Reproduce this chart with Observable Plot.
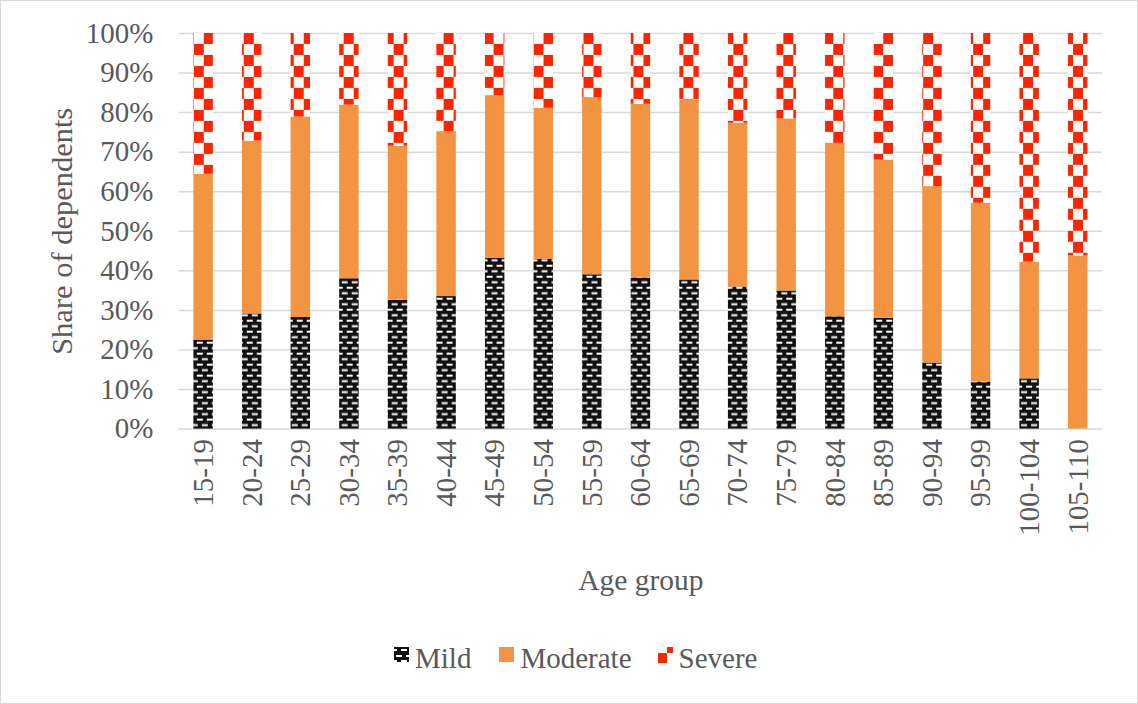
<!DOCTYPE html>
<html>
<head>
<meta charset="utf-8">
<script src="https://cdn.jsdelivr.net/npm/d3@7"></script>
<script src="https://cdn.jsdelivr.net/npm/@observablehq/plot@0.6"></script>
<style>
  body { margin: 0; background: #fff; }
  #frame { position: relative; width: 1138px; height: 704px; box-sizing: border-box; border: 1px solid #d9d9d9; background: #fff; font-family: "Liberation Serif", "Times New Roman", serif; color: #595959; overflow: hidden; }
  #chart { position: absolute; left: -1px; top: -1px; }
  #legend { position: absolute; top: 639px; left: 393px; height: 36px; line-height: 36px; font-size: 29px; font-family: "Liberation Serif", "Times New Roman", serif; color: #595959; display: flex; align-items: center; white-space: nowrap; }
  #legend span { font-family: "Liberation Serif", "Times New Roman", serif; }
  .item { display: flex; align-items: center; }
  .item svg { display: block; margin-right: 6px; margin-top: -7px; }
</style>
</head>
<body>
<div id="frame">
  <div id="chart"></div>
  <div id="legend"></div>
</div>
<script>
// ---- data (percent shares) ----
const ageGroups = ["15-19","20-24","25-29","30-34","35-39","40-44","45-49","50-54","55-59","60-64","65-69","70-74","75-79","80-84","85-89","90-94","95-99","100-104","105-110"];
const mild     = [22.5, 29.1, 28.2, 38.0, 32.6, 33.5, 43.2, 42.9, 39.0, 38.2, 37.7, 35.9, 34.9, 28.4, 28.0, 16.7, 11.9, 12.7, 0.0];
const moderate = [41.9, 43.7, 50.7, 43.9, 38.9, 41.7, 41.1, 38.2, 44.8, 43.9, 45.5, 41.4, 43.5, 43.8, 40.0, 44.6, 45.2, 29.5, 43.8];
const severe   = [35.6, 27.2, 21.1, 18.1, 28.5, 24.8, 15.7, 18.9, 16.2, 17.9, 16.8, 22.7, 21.6, 27.8, 32.0, 38.7, 42.9, 57.8, 56.2];
const levels = ["Mild", "Moderate", "Severe"];
const yTicks = [0, 10, 20, 30, 40, 50, 60, 70, 80, 90, 100];

const series = {Mild: mild, Moderate: moderate, Severe: severe};
const data = ageGroups.flatMap((age, i) => levels.map(level => ({age, level, value: series[level][i]})));

// ---- patterns ----
const patternDefs = `
  <pattern id="pat-mild" patternUnits="userSpaceOnUse" width="10" height="11">
    <rect width="10" height="11" fill="#111"/>
    <rect x="7" y="1" width="6" height="2" fill="#fff"/>
    <rect x="-3" y="1" width="6" height="2" fill="#fff"/>
    <rect x="2" y="6.5" width="6" height="2" fill="#fff"/>
  </pattern>
  <pattern id="pat-severe" patternUnits="userSpaceOnUse" width="20" height="22" x="194" y="0">
    <rect width="20" height="22" fill="#fff"/>
    <rect x="0" y="0" width="10" height="11" fill="#ff2400"/>
    <rect x="10" y="11" width="10" height="11" fill="#ff2400"/>
  </pattern>`;

function defsMark() {
  const g = document.createElementNS("http://www.w3.org/2000/svg", "defs");
  g.innerHTML = patternDefs;
  return g;
}

const font = '"Liberation Serif", "Times New Roman", serif';

const chart = Plot.plot({
  width: 1138,
  height: 640,
  marginLeft: 179,
  marginRight: 35,
  marginTop: 33,
  marginBottom: 211,
  style: { fontFamily: font, fontSize: "29px", color: "#595959", background: "transparent" },
  x: { domain: ageGroups, paddingInner: 0.6, paddingOuter: 0.3, round: false, label: null },
  y: { domain: [0, 100], label: null },
  color: { domain: levels, range: ["url(#pat-mild)", "#f29441", "url(#pat-severe)"] },
  marks: [
    defsMark,
    Plot.gridY(yTicks, { stroke: "#d9d9d9", strokeOpacity: 1, strokeWidth: 1.5 }),
    Plot.barY(data, Plot.stackY({ x: "age", y: "value", fill: "level", order: levels })),
    Plot.axisY(yTicks, { tickSize: 0, tickPadding: 26, tickFormat: d => d + "%", fontSize: 29, label: null }),
    Plot.axisY({ ticks: [], tickSize: 0, label: "Share of dependents", labelAnchor: "center", labelArrow: "none", labelOffset: 129, fontSize: 30.5 }),
    Plot.axisX({ tickSize: 0, tickPadding: 10, tickRotate: -90, fontSize: 29, label: null }),
    Plot.axisX({ ticks: [], tickSize: 0, label: "Age group", labelAnchor: "center", labelArrow: "none", labelOffset: 161, fontSize: 29.5 })
  ]
});
document.getElementById("chart").appendChild(chart);

// ---- legend ----
const icons = {
  Mild: `<svg width="15" height="15"><defs>
      <pattern id="lg-mild" patternUnits="userSpaceOnUse" width="10" height="11">
        <rect width="10" height="11" fill="#111"/>
        <rect x="7" y="2" width="6" height="2" fill="#fff"/><rect x="-3" y="2" width="6" height="2" fill="#fff"/>
        <rect x="2" y="8" width="6" height="2" fill="#fff"/>
      </pattern></defs><rect width="15" height="15" fill="url(#lg-mild)"/></svg>`,
  Moderate: `<svg width="15" height="15"><rect width="15" height="15" fill="#f29441"/></svg>`,
  Severe: `<svg width="15" height="16"><rect x="9" y="0" width="6" height="6" fill="#ff2400"/><rect x="0" y="6" width="9" height="10" fill="#ff2400"/></svg>`
};
const gaps = { Mild: 28, Moderate: 26, Severe: 0 };
const legend = document.getElementById("legend");
levels.forEach(l => {
  const it = document.createElement("div");
  it.className = "item";
  it.style.marginRight = gaps[l] + "px";
  it.innerHTML = icons[l] + `<span>${l}</span>`;
  legend.appendChild(it);
});
</script>
</body>
</html>
